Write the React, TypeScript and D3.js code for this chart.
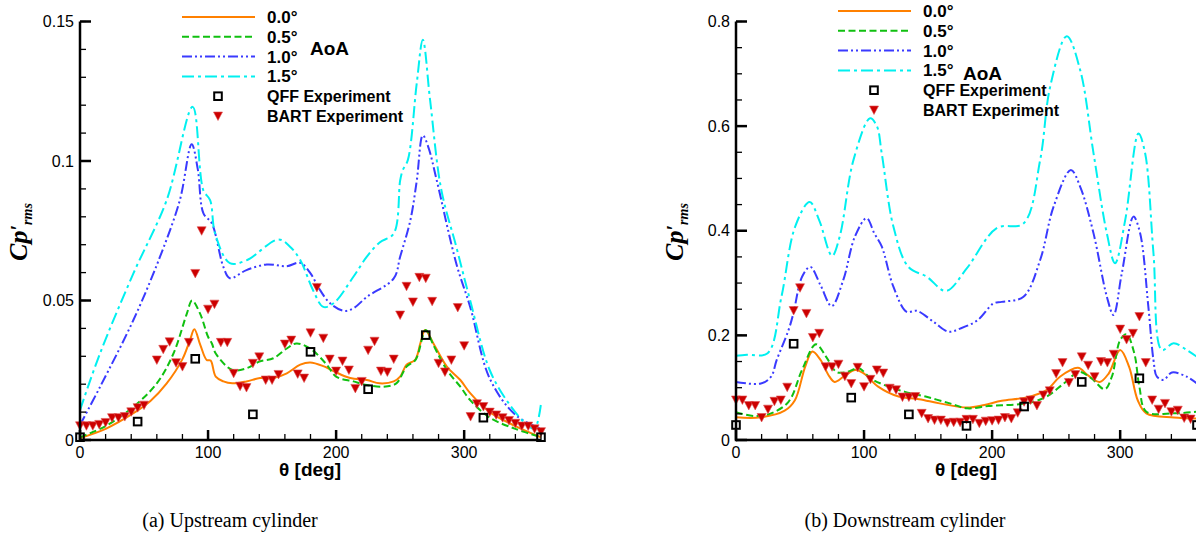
import React from 'react';
import * as d3 from 'd3';

type P = [number, number];

// ---------- (a) Upstream cylinder ----------
const upAoA00: P[] = [[0,0.0007],[20,0.004],[41.7,0.0096],[55,0.014],[67.7,0.0203],[80,0.029],[86,0.036],[89.3,0.0397],[94,0.034],[98.9,0.0287],[102,0.0285],[106,0.0227],[112,0.021],[119,0.0203],[130,0.021],[140.6,0.0222],[151,0.0222],[161.5,0.0239],[172,0.027],[179.7,0.0278],[190,0.0265],[198,0.0247],[211,0.0222],[224,0.0215],[234,0.0203],[245,0.021],[250,0.0227],[255,0.027],[261.7,0.0287],[266,0.035],[269.5,0.0394],[276,0.0346],[286.5,0.0263],[297,0.0215],[304.7,0.0168],[320,0.010],[340,0.005],[360,0.001]];
const upAoA05: P[] = [[0,0.001],[20,0.005],[41.7,0.0119],[60,0.0203],[73,0.031],[83.5,0.0454],[87.5,0.050],[93.7,0.0454],[100,0.037],[103,0.0346],[106,0.031],[119,0.0251],[130,0.0257],[140,0.0281],[151,0.0293],[161.5,0.0328],[169,0.0346],[179.7,0.0328],[192.7,0.027],[200,0.0227],[213.5,0.021],[224,0.0197],[237,0.0191],[247,0.0203],[255,0.0263],[262,0.0287],[270,0.0394],[276,0.034],[286.5,0.0251],[297,0.0191],[304.7,0.0143],[320,0.008],[340,0.004],[360,0.001]];
const upAoA10: P[] = [[0,0.0054],[15.6,0.019],[41.7,0.043],[62.5,0.0657],[78,0.086],[87.2,0.106],[92,0.097],[96.4,0.0812],[102.9,0.0777],[112,0.062],[117,0.058],[130,0.0609],[145.8,0.0629],[161.5,0.0623],[172,0.0635],[180,0.0597],[187.5,0.0537],[195.3,0.049],[206,0.0463],[213.5,0.0472],[224,0.0513],[245,0.0579],[250,0.0657],[258,0.0788],[263,0.093],[267.7,0.1092],[272,0.105],[278.6,0.093],[294,0.063],[304.7,0.0477],[320,0.022],[340,0.009],[360,0.004]];
const upAoA15: P[] = [[0,0.0107],[15.6,0.031],[41.7,0.0597],[67.7,0.086],[88,0.1194],[96.3,0.0895],[101.6,0.086],[105.5,0.074],[117,0.0634],[130,0.0644],[155,0.0719],[164,0.0693],[172,0.0645],[182,0.0537],[190,0.0477],[198,0.049],[213.5,0.0585],[224,0.0657],[234,0.0708],[245,0.074],[250,0.093],[252,0.0967],[256,0.1003],[263,0.128],[267.7,0.1435],[273.4,0.1218],[282,0.09],[294,0.069],[304.7,0.050],[320,0.025],[335,0.013],[350,0.005],[355,0.004],[360,0.013]];
const upQFF: P[] = [[0,0.001],[45,0.0066],[90,0.0291],[135,0.0092],[180,0.0316],[225,0.0182],[270,0.0376],[315,0.008],[360,0.001]];
const upBART: P[] = [[0,0.0051],[5,0.0051],[10,0.0051],[15,0.0056],[20,0.0063],[25,0.008],[30,0.008],[35,0.0084],[40,0.0101],[45,0.0116],[50,0.0125],[60,0.0287],[65,0.0325],[70,0.0352],[75,0.0277],[80,0.0263],[85,0.035],[90,0.0597],[95,0.075],[100,0.0469],[105,0.0487],[110,0.035],[115,0.035],[120,0.0239],[125,0.0193],[130,0.0188],[135,0.0275],[140,0.0298],[145,0.0215],[150,0.0215],[155,0.0235],[160,0.0344],[165,0.0358],[170,0.0237],[175,0.0222],[180,0.0384],[185,0.0547],[190,0.0365],[195,0.029],[200,0.0247],[205,0.0283],[210,0.0251],[215,0.0185],[220,0.021],[225,0.0322],[230,0.0354],[235,0.0247],[240,0.0244],[245,0.029],[250,0.0448],[255,0.0551],[260,0.0495],[265,0.0583],[270,0.058],[275,0.0497],[280,0.0275],[285,0.0244],[290,0.0287],[295,0.0475],[300,0.0338],[305,0.0084],[310,0.013],[315,0.012],[320,0.010],[325,0.009],[330,0.008],[335,0.007],[340,0.006],[345,0.005],[350,0.005],[355,0.004],[360,0.003]];

// ---------- (b) Downstream cylinder ----------
const dnAoA00: P[] = [[0,0.0433],[19.4,0.0433],[38,0.056],[46,0.076],[54,0.14],[59.7,0.169],[66,0.153],[73,0.121],[77,0.111],[84,0.121],[93,0.134],[100,0.127],[111,0.102],[127,0.083],[143,0.078],[159,0.070],[180.6,0.062],[194,0.067],[207.5,0.075],[226,0.081],[242.5,0.0955],[253,0.121],[267,0.138],[274.7,0.124],[284,0.111],[291,0.127],[300,0.172],[307,0.14],[313.7,0.076],[320.4,0.051],[342,0.043],[360,0.041]];
const dnAoA05: P[] = [[0,0.053],[14,0.046],[27.4,0.051],[41,0.073],[51.6,0.134],[62.4,0.183],[70.4,0.159],[78.5,0.13],[86.6,0.13],[96,0.137],[105,0.118],[116,0.105],[132,0.092],[148,0.083],[167,0.070],[180.6,0.0605],[197,0.065],[213,0.067],[229,0.071],[242.5,0.083],[256,0.108],[268,0.130],[277.4,0.118],[288,0.097],[293.5,0.121],[300,0.191],[305,0.202],[311,0.166],[315,0.102],[320.4,0.054],[342,0.051],[360,0.054]];
const dnAoA10: P[] = [[0,0.111],[19.4,0.108],[27.4,0.121],[31.8,0.153],[41,0.21],[44.8,0.242],[51.6,0.312],[58,0.331],[66,0.296],[74.7,0.256],[83.8,0.306],[92.9,0.389],[102,0.424],[108,0.395],[113.8,0.37],[122.9,0.293],[133.3,0.245],[141.1,0.247],[154.2,0.226],[165.9,0.207],[175,0.213],[188.7,0.229],[201,0.261],[207.5,0.264],[224.5,0.274],[237.5,0.344],[248,0.446],[261.5,0.516],[268.8,0.484],[279.2,0.395],[289.6,0.274],[294.8,0.239],[301.3,0.319],[310.4,0.427],[315.6,0.395],[322,0.255],[326,0.153],[328.7,0.121],[333.9,0.115],[340.4,0.129],[352,0.121],[360,0.108]];
const dnAoA15: P[] = [[0,0.161],[8.6,0.163],[24.7,0.166],[35.5,0.274],[46.2,0.408],[57.5,0.455],[65,0.42],[75,0.352],[81,0.389],[91.7,0.535],[104.7,0.615],[110,0.6],[113.8,0.548],[122.9,0.408],[134.6,0.331],[149,0.312],[164,0.285],[180.2,0.328],[203.6,0.405],[224.5,0.414],[237.5,0.535],[245.3,0.675],[258.3,0.772],[268.8,0.707],[279.2,0.548],[289.6,0.395],[296,0.338],[303.9,0.42],[314.3,0.586],[319.5,0.548],[326,0.357],[332.6,0.172],[341.7,0.185],[352,0.172],[360,0.159]];
const dnQFF: P[] = [[0,0.0287],[45,0.184],[90,0.081],[135,0.049],[180,0.027],[225,0.064],[270,0.111],[315,0.118],[360,0.0287]];
const dnBART: P[] = [[0,0.0765],[5,0.0765],[10,0.066],[15,0.066],[20,0.043],[25,0.059],[30,0.074],[35,0.0765],[40,0.101],[45,0.2475],[50,0.291],[55,0.242],[60,0.196],[65,0.204],[70,0.14],[75,0.14],[80,0.145],[85,0.122],[90,0.108],[95,0.139],[100,0.102],[105,0.116],[110,0.134],[115,0.128],[120,0.099],[125,0.096],[130,0.082],[135,0.082],[140,0.083],[145,0.051],[150,0.041],[155,0.038],[160,0.038],[165,0.033],[170,0.034],[175,0.034],[180,0.0395],[185,0.0395],[190,0.032],[195,0.036],[200,0.037],[205,0.038],[210,0.043],[215,0.041],[220,0.052],[225,0.073],[230,0.0765],[235,0.066],[240,0.086],[245,0.094],[250,0.127],[255,0.148],[260,0.11],[265,0.125],[270,0.159],[275,0.143],[280,0.121],[285,0.15],[290,0.148],[295,0.164],[300,0.212],[305,0.192],[310,0.204],[315,0.236],[320,0.148],[325,0.0765],[330,0.059],[335,0.07],[340,0.054],[345,0.057],[350,0.042],[355,0.040]];

// ---------- axes / legend text ----------
const xMajor = [0, 100, 200, 300];
const xMinor = d3.range(0, 361, 20);
const upYMajor = [0, 0.05, 0.1, 0.15];
const upYMinor = d3.range(0, 0.1501, 0.01);
const dnYMajor = [0, 0.2, 0.4, 0.6, 0.8];
const dnYMinor = d3.range(0, 0.8001, 0.05);
const seriesNames = ['0.0°', '0.5°', '1.0°', '1.5°'];
const expNames = ['QFF Experiment', 'BART Experiment'];

const COLORS = ['#ff8000', '#10c010', '#3a3aff', '#00f0f0'];
const DASHES = ['none', '7 3.5', '10 3 2 3 2 3', '12 4 3 4'];
const RED = '#cc0000';
const SANS = '"Liberation Sans", Arial, Helvetica, sans-serif';
const SERIF = '"Liberation Serif", "Times New Roman", serif';

interface PanelProps {
  ox: number;
  ymax: number;
  yMajor: number[];
  yMinor: number[];
  curves: P[][];
  qff: P[];
  bart: P[];
  legendY: number;
  aoa: [number, number];
  caption: string;
  captionX: number;
}

function Tri({ x, y }: { x: number; y: number }) {
  return <path d={`M${x - 4.5},${y - 4} L${x + 4.5},${y - 4} L${x},${y + 4.5} Z`} fill={RED} stroke="#e05050" strokeWidth={0.6} />;
}
function Sq({ x, y }: { x: number; y: number }) {
  return <rect x={x - 3.8} y={y - 3.8} width={7.6} height={7.6} fill="none" stroke="#000" strokeWidth={2} />;
}

function Panel(p: PanelProps) {
  const x = d3.scaleLinear().domain([0, 360]).range([80 + p.ox, 541 + p.ox]);
  const y = d3.scaleLinear().domain([0, p.ymax]).range([440, 21.5]);
  const line = d3.line<P>().x(d => x(d[0])).y(d => y(d[1])).curve(d3.curveCatmullRom.alpha(0.5));
  const fmt = (v: number) => String(+v.toFixed(3));
  const lx0 = 182 + p.ox, lx1 = 255 + p.ox, tx = 267 + p.ox, mx = 218 + p.ox;
  const rows = [0, 1, 2, 3, 4, 5].map(i => p.legendY + i * 19.8);
  return (
    <g>
      {/* curves */}
      {p.curves.map((c, i) => (
        <path key={i} d={line(c) || ''} fill="none" stroke={COLORS[i]} strokeWidth={2} strokeDasharray={DASHES[i]} />
      ))}
      {/* experiments */}
      {p.bart.map((d, i) => <Tri key={'b' + i} x={x(d[0])} y={y(d[1])} />)}
      {p.qff.map((d, i) => <Sq key={'q' + i} x={x(d[0])} y={y(d[1])} />)}
      {/* axes */}
      <line x1={x(0)} x2={x(360)} y1={440} y2={440} stroke="#000" strokeWidth={2.5} />
      <line x1={x(0)} x2={x(0)} y1={441.2} y2={y(p.ymax)} stroke="#000" strokeWidth={2.5} />
      {xMinor.map(v => <line key={'xm' + v} x1={x(v)} x2={x(v)} y1={440} y2={434} stroke="#000" strokeWidth={1.3} />)}
      {xMajor.map(v => <line key={'xM' + v} x1={x(v)} x2={x(v)} y1={440} y2={430} stroke="#000" strokeWidth={2.5} />)}
      {xMajor.map(v => (
        <text key={'xl' + v} x={x(v)} y={458} textAnchor="middle" fontFamily={SANS} fontSize={16}>{v}</text>
      ))}
      {p.yMinor.map((v, i) => <line key={'ym' + i} x1={x(0)} x2={x(0) + 6} y1={y(v)} y2={y(v)} stroke="#000" strokeWidth={1.3} />)}
      {p.yMajor.map(v => <line key={'yM' + v} x1={x(0)} x2={x(0) + 11} y1={y(v)} y2={y(v)} stroke="#000" strokeWidth={2.5} />)}
      {p.yMajor.map(v => (
        <text key={'yl' + v} x={x(0) - 6} y={y(v) + 5.5} textAnchor="end" fontFamily={SANS} fontSize={16}>{fmt(v)}</text>
      ))}
      {/* axis titles */}
      <text x={310 + p.ox} y={476} textAnchor="middle" fontFamily={SANS} fontSize={19} fontWeight="bold">θ [deg]</text>
      <text transform={`translate(${27 + p.ox},232) rotate(-90)`} textAnchor="middle" fontFamily={SERIF} fontWeight="bold" fontStyle="italic" fontSize={26}>
        Cp<tspan fontSize={20} dy={-2}>′</tspan><tspan fontSize={14} dy={7}>rms</tspan>
      </text>
      {/* legend */}
      {seriesNames.map((n, i) => (
        <g key={'lg' + i}>
          <line x1={lx0} x2={lx1} y1={rows[i]} y2={rows[i]} stroke={COLORS[i]} strokeWidth={2} strokeDasharray={DASHES[i]} />
          <text x={tx} y={rows[i] + 6} fontFamily={SANS} fontSize={17} fontWeight="bold">{n}</text>
        </g>
      ))}
      <Sq x={mx} y={rows[4]} />
      <Tri x={mx} y={rows[5]} />
      {expNames.map((n, i) => (
        <text key={'ex' + i} x={tx} y={rows[4 + i] + 6} fontFamily={SANS} fontSize={16} fontWeight="bold">{n}</text>
      ))}
      <text x={p.aoa[0] + p.ox} y={p.aoa[1]} fontFamily={SANS} fontSize={19} fontWeight="bold">AoA</text>
      {/* caption */}
      <text x={p.captionX} y={527} textAnchor="middle" fontFamily={SERIF} fontSize={20}>{p.caption}</text>
    </g>
  );
}

export default function App() {
  return (
    <>
      <style>{`body{margin:0;background:#fff}`}</style>
      <svg width={1196} height={542} viewBox="0 0 1196 542" style={{ position: 'absolute', left: 0, top: 0, background: '#fff' }}>
        <Panel ox={0} ymax={0.15} yMajor={upYMajor} yMinor={upYMinor}
          curves={[upAoA00, upAoA05, upAoA10, upAoA15]} qff={upQFF} bart={upBART}
          legendY={17} aoa={[310, 55]} caption="(a) Upstream cylinder" captionX={230} />
        <Panel ox={656} ymax={0.8} yMajor={dnYMajor} yMinor={dnYMinor}
          curves={[dnAoA00, dnAoA05, dnAoA10, dnAoA15]} qff={dnQFF} bart={dnBART}
          legendY={11} aoa={[307, 80]} caption="(b) Downstream cylinder" captionX={905} />
      </svg>
    </>
  );
}
